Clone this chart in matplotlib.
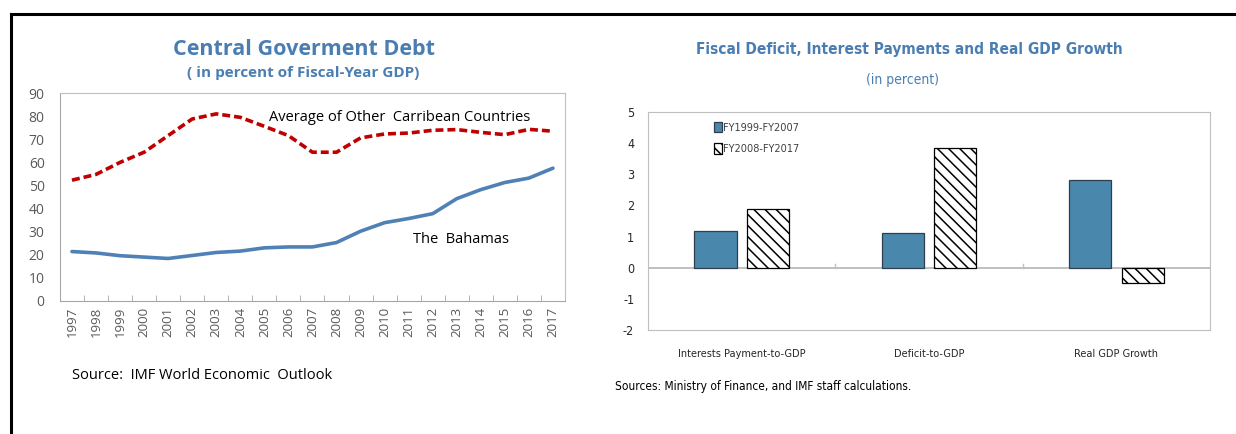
import matplotlib.pyplot as plt
import numpy as np
from matplotlib import font_manager

# central government debt, % of fiscal-year GDP
years = list(range(1997, 2018))
bahamas = [21.4, 20.8, 19.6, 19.0, 18.4, 19.7, 21.0, 21.6, 23.0, 23.4, 23.4,
           25.3, 30.2, 33.9, 35.7, 37.8, 44.3, 48.2, 51.3, 53.2, 57.5]
caribbean = [52.3, 54.8, 60.0, 64.4, 71.6, 78.8, 81.0, 79.5, 75.6, 71.6, 64.4,
             64.4, 70.6, 72.3, 72.7, 73.9, 74.2, 73.0, 72.0, 74.3, 73.5]

# fiscal indicators, period averages
categories = ["Interests Payment-to-GDP", "Deficit-to-GDP", "Real GDP Growth"]
fy1999_2007 = [1.19, 1.10, 2.82]
fy2008_2017 = [1.89, 3.83, -0.49]

plt.rcParams["axes.unicode_minus"] = False
plt.rcParams["hatch.linewidth"] = 1.1

title_blue = "#4A7EB3"
grey_txt = "#595959"
frame = "#BFBFBF"

# narrow face for the right panel
names = {f.name for f in font_manager.fontManager.ttflist}
if "Liberation Sans Narrow" in names:
    NF = dict(family="Liberation Sans Narrow")
else:
    NF = dict(family="DejaVu Sans", stretch="condensed")

fig = plt.figure(figsize=(12.36, 4.34), dpi=100)

# outer border (top and left only)
fig.add_artist(plt.Line2D([0.009, 1.0], [0.967, 0.967], color="black", lw=2.2))
fig.add_artist(plt.Line2D([0.009, 0.009], [0.0, 0.967], color="black", lw=2.2))

# ---- left panel: debt lines
ax1 = fig.add_axes([0.0485, 0.3065, 0.4086, 0.479])
x = np.arange(len(years))
ax1.plot(x, bahamas, color="#4F81B5", lw=2.6, solid_capstyle="round")
ax1.plot(x, caribbean, color="#C00000", lw=2.6, ls=(0, (2.2, 1.1)))
ax1.set_xlim(-0.5, len(years) - 0.5)
ax1.set_ylim(0, 90)
ax1.set_yticks(range(0, 91, 10))
ax1.set_xticks(x)
ax1.set_xticklabels([str(y) for y in years], rotation=90, fontsize=9.5,
                    color=grey_txt, family="Open Sans")
ax1.set_xticks(np.arange(-0.5, len(years)), minor=True)
ax1.tick_params(axis="x", which="major", length=0, pad=4)
ax1.tick_params(axis="x", which="minor", direction="in", length=4, color="#A6A6A6")
ax1.tick_params(axis="y", length=0, labelsize=10, labelcolor=grey_txt, pad=11)
for lab in ax1.get_yticklabels():
    lab.set_family("Open Sans")
for s in ax1.spines.values():
    s.set_color(frame)
ax1.spines["left"].set_color("#A6A6A6")
ax1.spines["bottom"].set_color("#A6A6A6")
ax1.text(8.2, 79.5, "Average of Other  Carribean Countries", fontsize=10.5,
         family="Open Sans", va="center")
ax1.text(14.2, 26.5, "The  Bahamas", fontsize=10.5, family="Open Sans", va="center")

fig.text(0.246, 0.887, "Central Goverment Debt", ha="center", va="center",
         fontsize=15.5, fontweight="bold", color=title_blue, family="Open Sans")
fig.text(0.245, 0.832, "( in percent of Fiscal-Year GDP)", ha="center", va="center",
         fontsize=11, fontweight="bold", color=title_blue, family="Open Sans")
fig.text(0.058, 0.135, "Source:  IMF World Economic  Outlook", fontsize=10.5,
         family="Open Sans", va="center")

# ---- right panel: grouped bars
ax2 = fig.add_axes([0.5243, 0.2396, 0.4547, 0.5023])
xc = np.arange(len(categories))
w = 0.225
ax2.bar(xc - 0.14, fy1999_2007, w, color="#4A87AD", edgecolor="#2F3F4A",
        lw=0.9, label="FY1999-FY2007", zorder=3)
ax2.bar(xc + 0.14, fy2008_2017, w, color="white", edgecolor="black", hatch="\\\\\\",
        lw=0.9, label="FY2008-FY2017", zorder=3)
ax2.axhline(0, color="#BFBFBF", lw=1.4, zorder=2)
for b in (0.5, 1.5):
    ax2.plot([b, b], [0, 0.13], color="#BFBFBF", lw=1, zorder=2)
ax2.set_xlim(-0.5, 2.5)
ax2.set_ylim(-2, 5)
ax2.set_yticks(range(-2, 6))
ax2.set_xticks(xc)
ax2.set_xticklabels(categories, fontsize=7.8, color="#262626", **NF)
ax2.tick_params(axis="x", length=0, pad=14)
ax2.tick_params(axis="y", length=0, labelsize=9, labelcolor="#262626", pad=10)
for lab in ax2.get_yticklabels():
    lab.set(**NF)
for s in ax2.spines.values():
    s.set_color(frame)
leg = ax2.legend(loc="upper left", bbox_to_anchor=(0.1, 1.0), frameon=False,
                 handlelength=0.7, handleheight=1.1, handletextpad=0.15,
                 labelspacing=1.0, prop=dict(size=7.8, **NF))
for t in leg.get_texts():
    t.set_color("#404040")

fig.text(0.7355, 0.885, "Fiscal Deficit, Interest Payments and Real GDP Growth",
         ha="center", va="center", fontsize=11.1, fontweight="bold",
         color=title_blue, **NF)
fig.text(0.730, 0.815, "(in percent)", ha="center", va="center", fontsize=10,
         color=title_blue, **NF)
fig.text(0.4975, 0.11, "Sources: Ministry of Finance, and IMF staff calculations.",
         fontsize=8.6, va="center", **NF)

fig.savefig("out.png", dpi=100)
